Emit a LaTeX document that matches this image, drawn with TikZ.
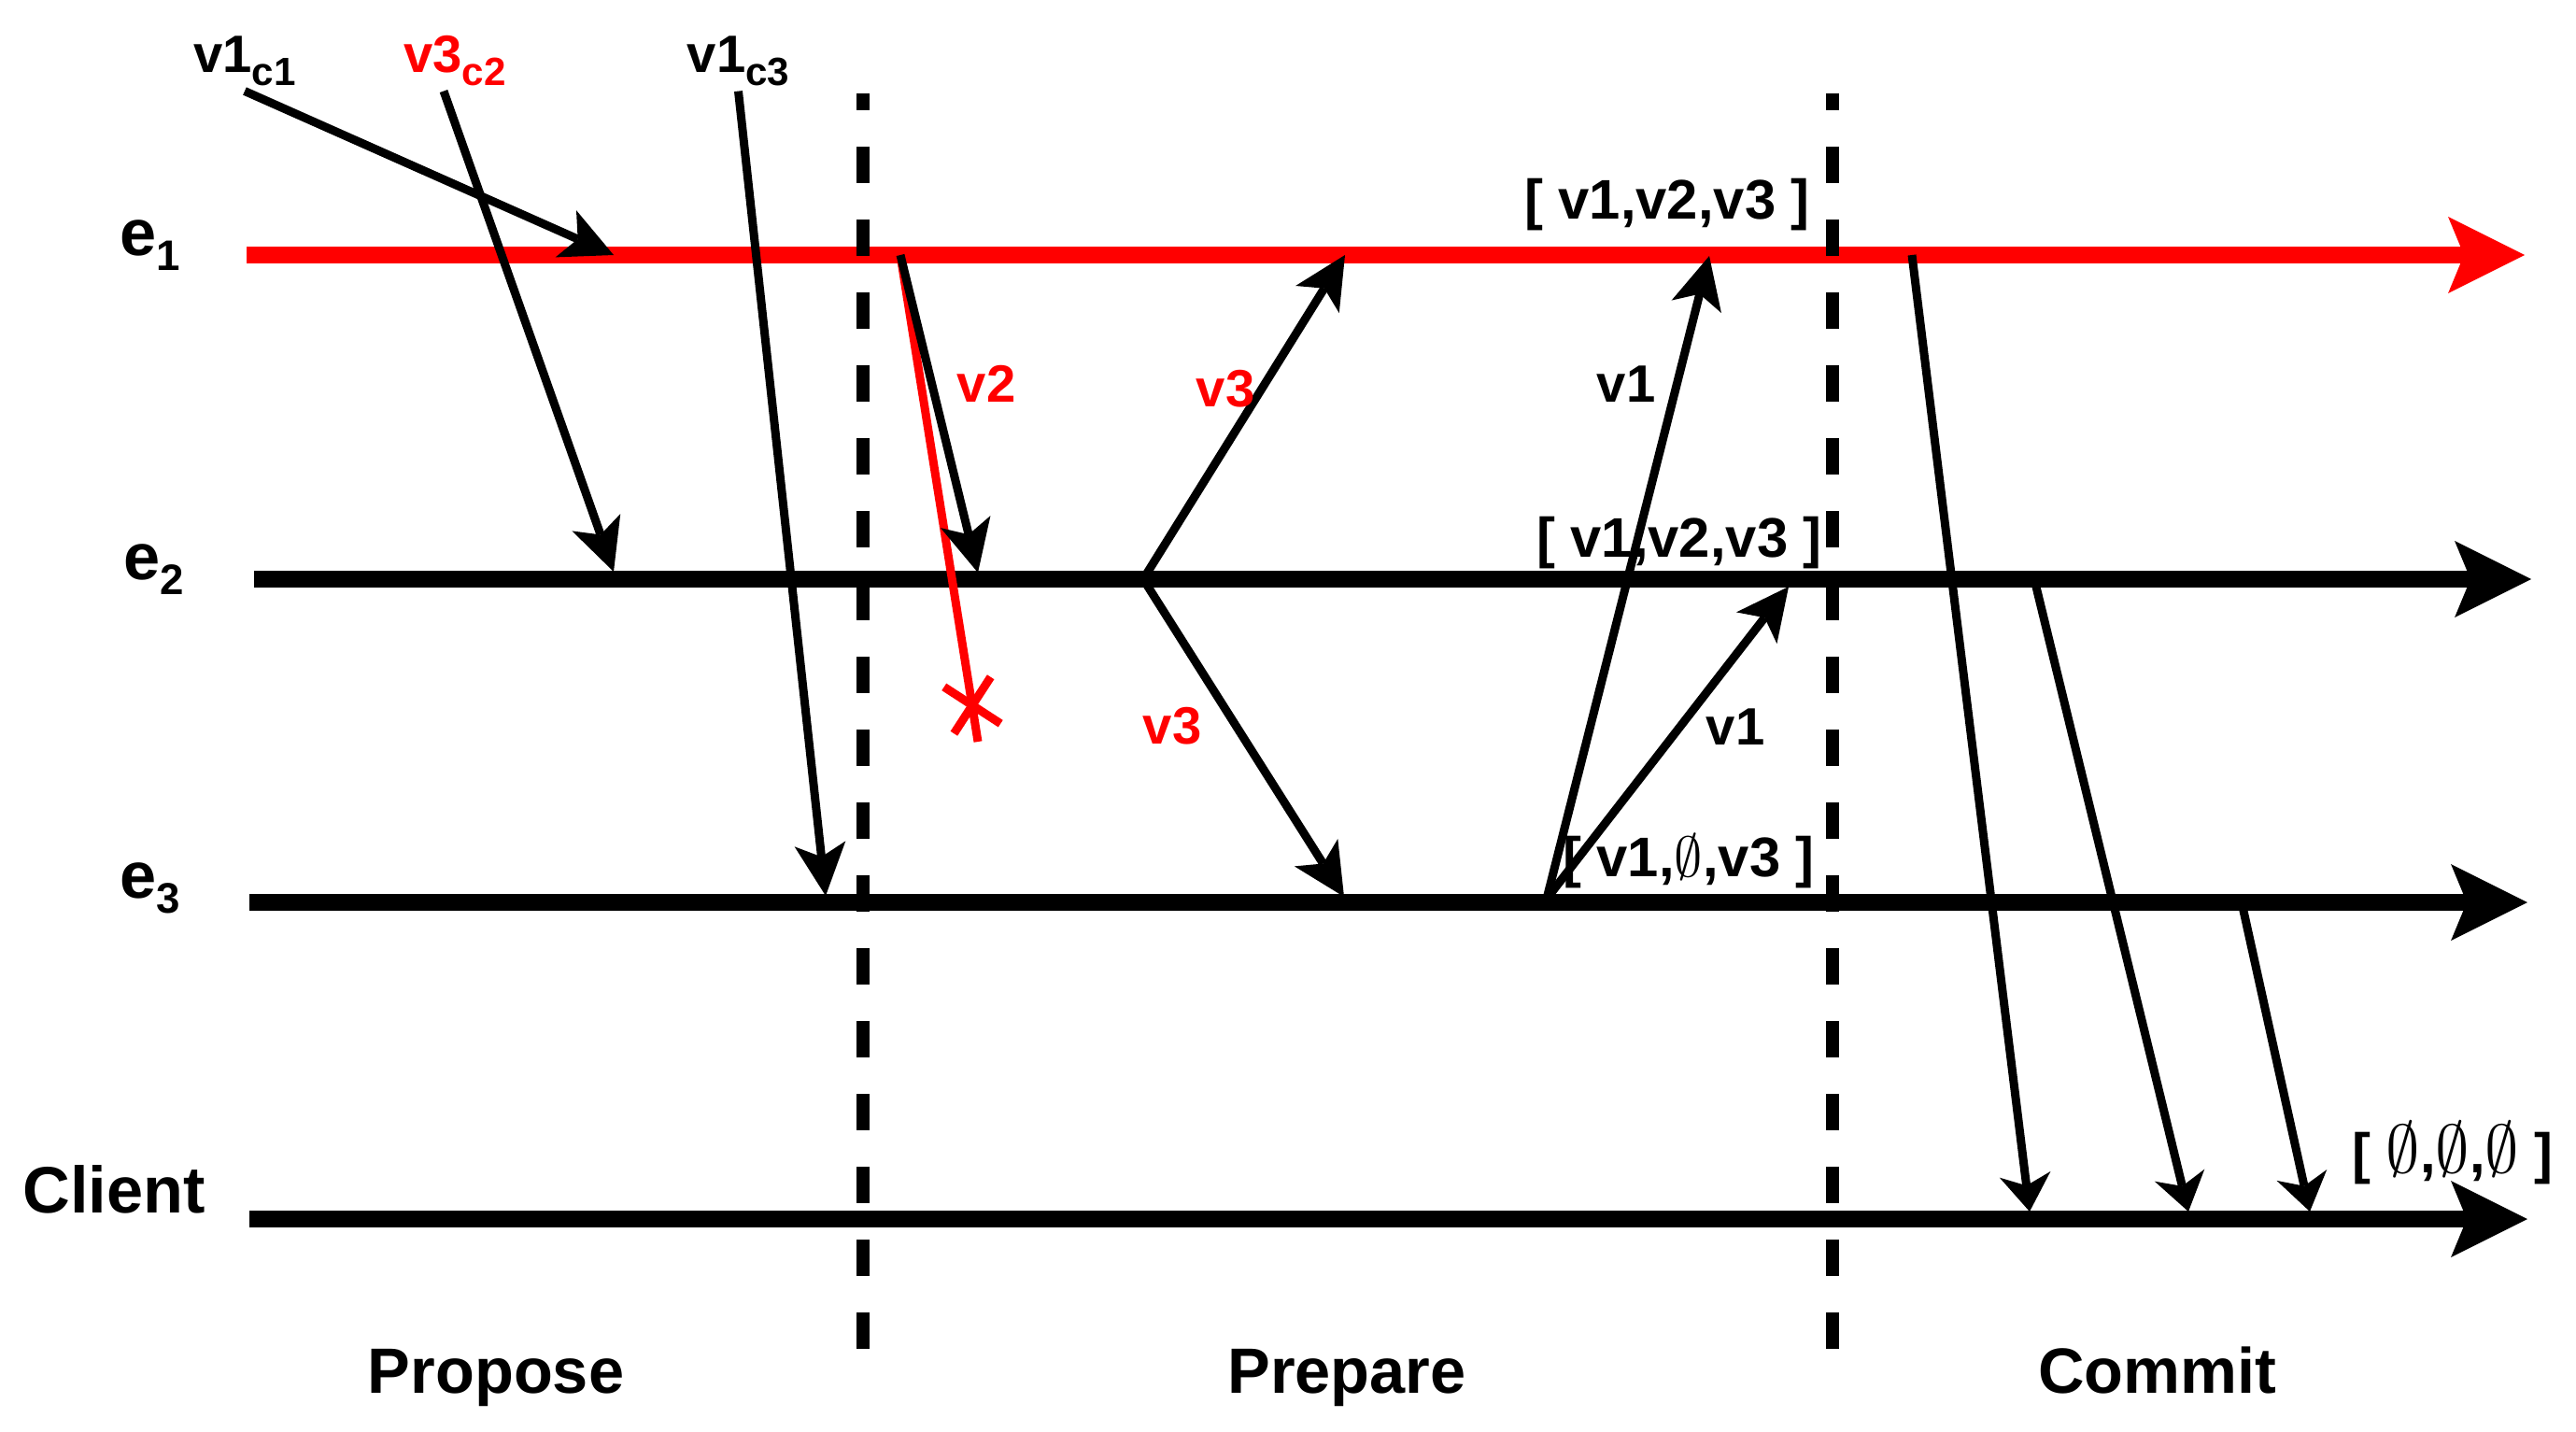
\documentclass[tikz,border=0pt]{standalone}
\usepackage{fontspec}
\setmainfont{Liberation Sans}
\usetikzlibrary{arrows.meta,shapes.misc}

\newcommand{\lowsub}[1]{\raisebox{-4.1pt}{\fontsize{12}{12}\selectfont #1}}
\newcommand{\procsub}[1]{\raisebox{-4.8pt}{\fontsize{13}{13}\selectfont #1}}
\newcommand{\bignull}{{\fontsize{21}{21}\selectfont$\emptyset$}}

\tikzset{
  timeline/.style={line width=0.175cm, -{Stealth[length=0.82cm,width=0.82cm,inset=0.17cm,line width=0pt]}},
  msg/.style={line width=0.09cm, -{Stealth[length=0.56cm,width=0.55cm,inset=0.14cm,line width=0pt]}},
  reply/.style={line width=0.09cm, -{Stealth[length=0.4cm,width=0.55cm,inset=0.12cm,line width=0pt]}},
  lostmsg/.style={line width=0.09cm, red},
  phase/.style={line width=0.14cm, dash pattern=on 0.39cm off 0.39cm, dash phase=0.21cm},
  proc/.style={inner sep=0pt, anchor=base west, font=\fontsize{20}{22}\selectfont\bfseries},
  phaselbl/.style={inner sep=0pt, anchor=base, font=\fontsize{19.5}{22}\selectfont\bfseries},
  val/.style={inner sep=0pt, anchor=base, font=\fontsize{16}{18}\selectfont\bfseries},
  vec/.style={inner sep=0pt, anchor=base, font=\fontsize{17}{19}\selectfont\bfseries},
}

\begin{document}
\begin{tikzpicture}
\useasboundingbox (0,0) rectangle (27.58,-15.32);

% processes
\node[proc] (e1lbl) at (1.28,-2.73) {e\procsub{1}};
\node[proc] (e2lbl) at (1.32,-6.20) {e\procsub{2}};
\node[proc] (e3lbl) at (1.28,-9.61) {e\procsub{3}};
\node[proc] (cllbl) at (0.24,-12.98) {Client};

\coordinate (e1s) at (2.64,-2.73);  \coordinate (e1e) at (27.03,-2.73);
\coordinate (e2s) at (2.72,-6.20);  \coordinate (e2e) at (27.10,-6.20);
\coordinate (e3s) at (2.67,-9.66);  \coordinate (e3e) at (27.06,-9.66);
\coordinate (cls) at (2.67,-13.05); \coordinate (cle) at (27.06,-13.05);

\draw[timeline,red] (e1s) -- (e1e);
\draw[timeline] (e2s) -- (e2e);
\draw[timeline] (e3s) -- (e3e);
\draw[timeline] (cls) -- (cle);

% propose
\node[val] (v1c1) at (2.62,-0.77) {v1\lowsub{c1}};
\node[val,text=red] (v3c2) at (4.87,-0.77) {v3\lowsub{c2}};
\node[val] (v1c3) at (7.905,-0.77) {v1\lowsub{c3}};

\coordinate (p1) at (6.57,-2.73);
\coordinate (p2) at (6.57,-6.12);
\coordinate (p3) at (8.84,-9.59);

\draw[msg] ([yshift=-0.05cm]v1c1.south) -- (p1);
\draw[msg] ([xshift=-0.12cm,yshift=-0.05cm]v3c2.south) -- (p2);
\draw[msg] ([yshift=-0.05cm]v1c3.south) -- (p3);

% prepare
\coordinate (q1) at (9.64,-2.73);
\coordinate (q1e2) at (10.47,-6.13);
\coordinate (lost) at (10.47,-7.94);
\draw[lostmsg] (q1) -- (lost);
\node[cross out, draw=red, line width=0.09cm, minimum size=0.42cm, inner sep=0pt, rotate=12] (drop) at (10.41,-7.55) {};
\draw[msg] (q1) -- (q1e2);
\node[val,text=red] (v2lbl) at (10.56,-4.30) {v2};

\coordinate (q2) at (12.24,-6.20);
\coordinate (q2e1) at (14.40,-2.73);
\coordinate (q2e3) at (14.39,-9.60);
\draw[msg] (q2) -- (q2e1);
\draw[msg] (q2) -- (q2e3);
\node[val,text=red] (v3up) at (13.12,-4.35) {v3};
\node[val,text=red] (v3dn) at (12.55,-7.96) {v3};

\node[vec] (st1) at (17.85,-2.34) {[ v1,v2,v3 ]};
\node[vec] (st2) at (17.98,-5.96) {[ v1,v2,v3 ]};
\node[vec] (st3) at (18.08,-9.38) {[ v1,{\fontsize{19}{19}\selectfont$\emptyset$},v3 ]};

\coordinate (q3) at (16.56,-9.62);
\coordinate (q3e1) at (18.30,-2.74);
\coordinate (q3e2) at (19.15,-6.28);
\draw[msg] (q3) -- (q3e1);
\draw[msg] (q3) -- (q3e2);
\node[val] (v1up) at (17.41,-4.30) {v1};
\node[val] (v1rt) at (18.58,-7.97) {v1};

% commit
\coordinate (r1) at (20.47,-2.73); \coordinate (r1c) at (21.73,-12.97);
\coordinate (r2) at (21.78,-6.20); \coordinate (r2c) at (23.43,-12.97);
\coordinate (r3) at (24.00,-9.66); \coordinate (r3c) at (24.73,-12.97);
\draw[reply] (r1) -- (r1c);
\draw[reply] (r2) -- (r2c);
\draw[reply] (r3) -- (r3c);
\node[vec] (st4) at (26.26,-12.55) {[ \bignull,\bignull,\bignull{} ]};

% phases
\coordinate (d1t) at (9.24,-1.00);  \coordinate (d1b) at (9.24,-14.47);
\coordinate (d2t) at (19.62,-1.00); \coordinate (d2b) at (19.62,-14.47);
\draw[phase] (d1t) -- (d1b);
\draw[phase] (d2t) -- (d2b);

\node[phaselbl] (propose) at (5.31,-14.91) {Propose};
\node[phaselbl] (prepare) at (14.42,-14.91) {Prepare};
\node[phaselbl] (commit) at (23.10,-14.91) {Commit};

\end{tikzpicture}
\end{document}
